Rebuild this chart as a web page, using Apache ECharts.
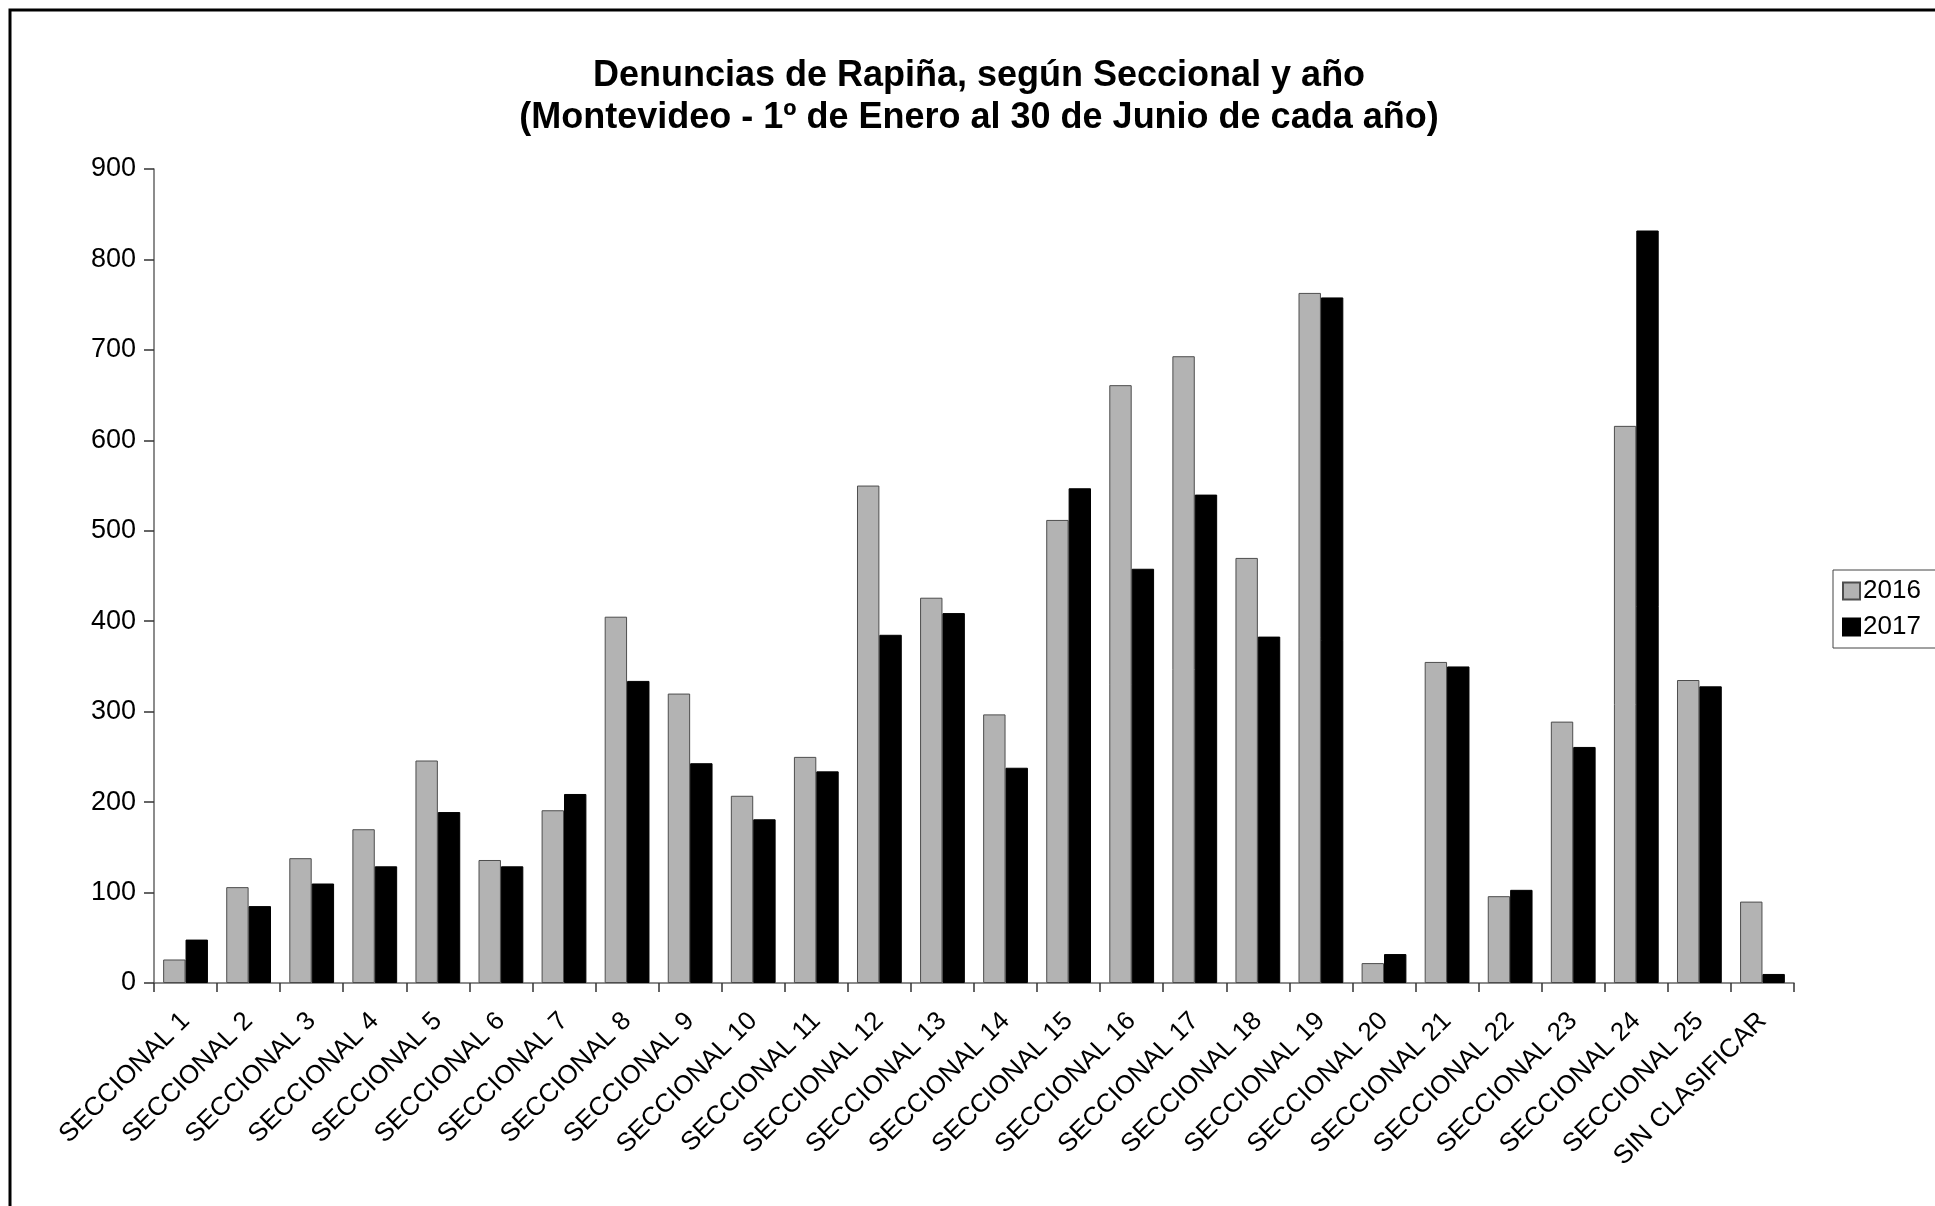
<!DOCTYPE html>
<html>
<head>
<meta charset="utf-8">
<script src="https://cdn.jsdelivr.net/npm/echarts@6/dist/echarts.min.js"></script>
<style>
html,body{margin:0;padding:0;background:#fff;}
#chart{width:1935px;height:1206px;}
</style>
</head>
<body>
<div id="chart"></div>
<script>
var categories = ['SECCIONAL 1','SECCIONAL 2','SECCIONAL 3','SECCIONAL 4','SECCIONAL 5','SECCIONAL 6','SECCIONAL 7','SECCIONAL 8','SECCIONAL 9','SECCIONAL 10','SECCIONAL 11','SECCIONAL 12','SECCIONAL 13','SECCIONAL 14','SECCIONAL 15','SECCIONAL 16','SECCIONAL 17','SECCIONAL 18','SECCIONAL 19','SECCIONAL 20','SECCIONAL 21','SECCIONAL 22','SECCIONAL 23','SECCIONAL 24','SECCIONAL 25','SIN CLASIFICAR'];
var values2016 = [26,106,138,170,246,136,191,405,320,207,250,550,426,297,512,661,693,470,763,22,355,96,289,616,335,90];
var values2017 = [48,85,110,129,189,129,209,334,243,181,234,385,409,238,547,458,540,383,758,32,350,103,261,832,328,10];
var seriesNames = ['2016','2017'];
var titleText = 'Denuncias de Rapiña, según Seccional y año\n(Montevideo - 1º de Enero al 30 de Junio de cada año)';

var FONT = '"Liberation Sans", Arial, sans-serif';
var chart = echarts.init(document.getElementById('chart'), null, {renderer:'canvas'});
chart.setOption({
  backgroundColor:'#ffffff',
  animation:false,
  textStyle:{fontFamily:FONT},
  title:{
    text:titleText,
    left:974, top:50, textAlign:'center',
    textStyle:{fontFamily:FONT, fontSize:36, fontWeight:'bold', color:'#000', lineHeight:42}
  },
  graphic:[{
    type:'rect', silent:true, z:-1,
    shape:{x:10, y:10, width:1940, height:1220},
    style:{fill:'none', stroke:'#000', lineWidth:3}
  }],
  legend:{
    data:seriesNames,
    orient:'vertical',
    left:1833, top:570,
    padding:[8,40,8,9],
    itemWidth:17, itemHeight:17, itemGap:10,
    borderColor:'#444', borderWidth:1,
    icon:'rect',
    textStyle:{fontFamily:FONT, fontSize:26, color:'#000', padding:[0,0,0,-2]}
  },
  grid:{left:154, top:169, right:141, bottom:223, containLabel:false},
  xAxis:{
    type:'category',
    data:categories,
    boundaryGap:true,
    axisLine:{lineStyle:{color:'#666', width:1.5}},
    axisTick:{show:true, alignWithLabel:false, length:9, lineStyle:{color:'#333', width:1.5}},
    axisLabel:{interval:0, rotate:45, margin:34, fontFamily:FONT, fontSize:26, color:'#000'}
  },
  yAxis:{
    type:'value', min:0, max:900, interval:100,
    axisLine:{show:true, lineStyle:{color:'#666', width:1.5}},
    axisTick:{show:true, length:10, lineStyle:{color:'#333', width:1.5}},
    splitLine:{show:false},
    axisLabel:{margin:18, fontFamily:FONT, fontSize:27, color:'#000'}
  },
  series:[{
    name:seriesNames[0], type:'bar', data:values2016,
    barGap:'0%', barCategoryGap:'29%',
    itemStyle:{color:'#b3b3b3', borderColor:'#4d4d4d', borderWidth:1}
  },{
    name:seriesNames[1], type:'bar', data:values2017,
    barGap:'0%', barCategoryGap:'29%',
    itemStyle:{color:'#000000', borderColor:'#000', borderWidth:1}
  }]
});
</script>
</body>
</html>
